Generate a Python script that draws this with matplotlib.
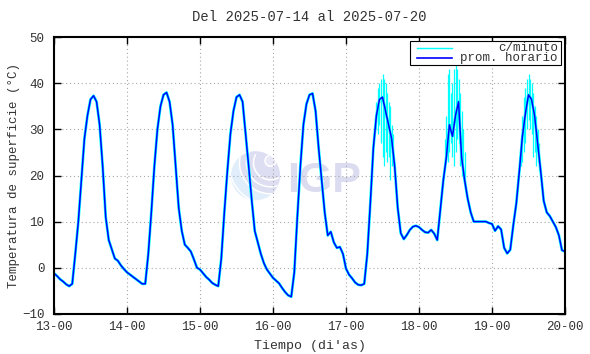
import matplotlib
matplotlib.use('Agg')
import matplotlib.pyplot as plt
import numpy as np
from matplotlib.patches import Circle, Rectangle, Arc
from matplotlib.lines import Line2D

# ---------------- data (hourly averages, degC) ----------------
day13 = [-1.2, -1.8, -2.5, -3.0, -3.6, -4.0, -3.5, 3.0, 10.0, 19.0, 28.0, 33.0,
         36.5, 37.3, 36.0, 31.0, 22.0, 11.0, 6.0, 4.0, 2.0, 1.5, 0.5, -0.3]
day14 = [-1.0, -1.5, -2.0, -2.5, -3.0, -3.5, -3.5, 3.0, 12.0, 22.0, 30.0, 35.0,
         37.5, 38.0, 36.0, 31.0, 22.0, 13.0, 8.0, 5.0, 4.3, 3.5, 1.8, 0.0]
day15 = [-0.4, -1.2, -2.0, -2.6, -3.3, -3.7, -4.0, 2.0, 12.0, 21.0, 29.0, 34.0,
         37.0, 37.5, 36.0, 29.0, 22.0, 14.7, 8.0, 5.5, 3.0, 1.0, -0.4, -1.3]
day16 = [-2.2, -2.8, -3.4, -4.4, -5.3, -6.0, -6.3, -1.0, 11.0, 22.0, 31.0, 35.5,
         37.5, 37.8, 34.0, 26.0, 19.0, 12.0, 7.0, 7.8, 5.5, 4.3, 4.5, 3.0]
day17 = [-0.2, -1.5, -2.3, -3.2, -3.7, -3.8, -3.5, 3.0, 14.0, 26.0, 33.0, 36.5,
         37.0, 34.0, 31.0, 28.0, 22.0, 13.0, 7.5, 6.2, 7.1, 8.2, 8.9, 9.1]
day18 = [8.8, 8.2, 7.7, 7.6, 8.2, 7.4, 6.0, 12.6, 19.0, 24.0, 31.0, 28.5,
         33.0, 36.0, 24.0, 19.0, 15.0, 12.0, 10.0, 10.0, 10.0, 10.0, 10.0, 9.7]
day19 = [9.5, 8.0, 9.0, 8.3, 4.3, 3.1, 3.9, 9.2, 14.0, 21.0, 28.5, 33.5,
         37.5, 36.5, 33.0, 27.0, 21.0, 14.5, 12.0, 11.2, 10.0, 8.8, 7.0, 3.8]
last_value = [3.5]

# minute-data spread around the noisy afternoons: (hour since 13-00, low, high)
spike_hours = [106.0, 106.5, 107.0, 107.5, 108.0, 108.5, 109.0, 109.5, 110.0, 110.5, 111.0, 111.5,
               128.5, 129.0, 129.5, 130.0, 130.5, 131.0, 131.5, 132.0, 132.5, 133.0, 133.5, 134.0, 134.5, 135.0,
               153.5, 154.0, 154.5, 155.0, 155.5, 156.0, 156.5, 157.0, 157.5, 158.0, 158.5, 159.0, 159.5]
spike_lo = [30, 29, 31, 27, 24, 22, 25, 23, 24, 19, 22, 23,
            22, 24, 23, 25, 27, 24, 22, 25, 28, 27, 22, 20, 21, 18,
            22, 23, 25, 27, 30, 32, 30, 29, 24, 25, 22, 23, 21]
spike_hi = [36, 39, 40, 41, 42, 41, 40, 38, 36, 35, 31, 29,
            28, 33, 42, 43, 38, 40, 43, 44, 43, 41, 38, 34, 30, 25,
            28, 33, 37, 39, 41, 42, 41, 40, 38, 35, 33, 30, 27]

xticks = [13, 14, 15, 16, 17, 18, 19, 20]
xticklabels = ['13-00', '14-00', '15-00', '16-00', '17-00', '18-00', '19-00', '20-00']
yticks = [-10, 0, 10, 20, 30, 40, 50]

hourly = day13 + day14 + day15 + day16 + day17 + day18 + day19 + last_value
t_hourly = 13 + np.arange(len(hourly)) / 24.0
t_spike = 13 + np.array(spike_hours) / 24.0

# ---------------- figure ----------------
plt.rcParams['font.family'] = ['Liberation Mono', 'DejaVu Sans Mono']
W, H = 590, 354
fig = plt.figure(figsize=(W / 100, H / 100), dpi=100)
L, R, T, B = 54, 565, 37.2, 313.8
ax = fig.add_axes([L / W, 1 - B / H, (R - L) / W, (B - T) / H])

tr = fig.dpi_scale_trans
# watermark logo
cx, cy, r = 2.555, (H - 175.8) / 100, 0.245
base = Circle((cx, cy), r, transform=tr, facecolor='#e0eefb', edgecolor='none', zorder=0.3, clip_on=False)
ax.add_patch(base)
ocx, ocy = cx + 0.15, cy + 0.13
upper = Circle((ocx, ocy), 0.31, transform=tr, facecolor='#dedef3', edgecolor='none', zorder=0.31)
ax.add_patch(upper)
upper.set_clip_path(base)
for rr in [0.31, 0.24, 0.17, 0.42]:
    a = Arc((ocx, ocy), rr * 2, rr * 2, theta1=150, theta2=300, transform=tr,
            color='white', lw=1.1, zorder=0.32)
    ax.add_patch(a)
    a.set_clip_path(base)
ring = Circle((cx + 0.15, cy + 0.15), 0.055, transform=tr, facecolor='#e8e8f7', edgecolor='white',
              lw=1.1, zorder=0.33)
ax.add_patch(ring)
ring.set_clip_path(base)
ax.text(2.875, (H - 192.5) / 100, 'IGP', transform=tr, fontsize=31, fontweight='bold',
        family='Liberation Sans', color='#dcdcf1', ha='left', va='baseline', zorder=0.3)

# data
ax.plot(t_hourly, hourly, color='#00ffff', lw=2.0, zorder=2, solid_joinstyle='round')
ax.vlines(t_spike, spike_lo, spike_hi, color='#00ffff', lw=0.9, zorder=2)
ax.plot(t_hourly, hourly, color='#0000ff', lw=1.1, zorder=3)

ax.set_xlim(13, 20)
ax.set_ylim(-10, 50)
ax.set_xticks(xticks)
ax.set_xticklabels(xticklabels)
ax.set_yticks(yticks)
ax.set_axisbelow('line')
ax.grid(True, color='#a8a8a8', linestyle=(0, (1, 2.5)), linewidth=0.8)
ax.tick_params(direction='in', length=5, width=1.0, top=True, right=True,
               labelsize=9, colors='black', labelcolor='#333333')
ax.tick_params(axis='y', pad=7)
ax.tick_params(axis='x', pad=5)
for s in ax.spines.values():
    s.set_linewidth(1.5)
    s.set_zorder(4)

fig.text(309.5 / W, 1 - 17 / H, 'Del 2025-07-14 al 2025-07-20', ha='center', va='center',
         fontsize=10, color='#333333')
fig.text(309.5 / W, 1 - 346 / H, "Tiempo (di'as)", ha='center', va='center', fontsize=9.5, color='#333333')
fig.text(14 / W, 1 - 175.5 / H, 'Temperatura de superficie (°C)', ha='center', va='center',
         rotation=90, fontsize=9, color='#333333')

# legend (gnuplot style)
ax.add_patch(Rectangle((4.10, (H - 65) / 100), 1.51, 0.24, transform=tr, facecolor='white',
                       edgecolor='black', lw=0.8, zorder=5, clip_on=False))
ax.add_line(Line2D([4.17, 4.52], [(H - 47.7) / 100] * 2, transform=tr, color='#00ffff', lw=1.0, zorder=6))
ax.add_line(Line2D([4.17, 4.52], [(H - 58.3) / 100] * 2, transform=tr, color='#0000ff', lw=1.2, zorder=6))
ax.text(5.58, (H - 47.7) / 100, 'c/minuto', transform=tr, ha='right', va='center', fontsize=9,
        color='#333333', zorder=6)
ax.text(5.58, (H - 58.3) / 100, 'prom. horario', transform=tr, ha='right', va='center', fontsize=9,
        color='#333333', zorder=6)

fig.savefig('out.png', dpi=100, facecolor='white')
